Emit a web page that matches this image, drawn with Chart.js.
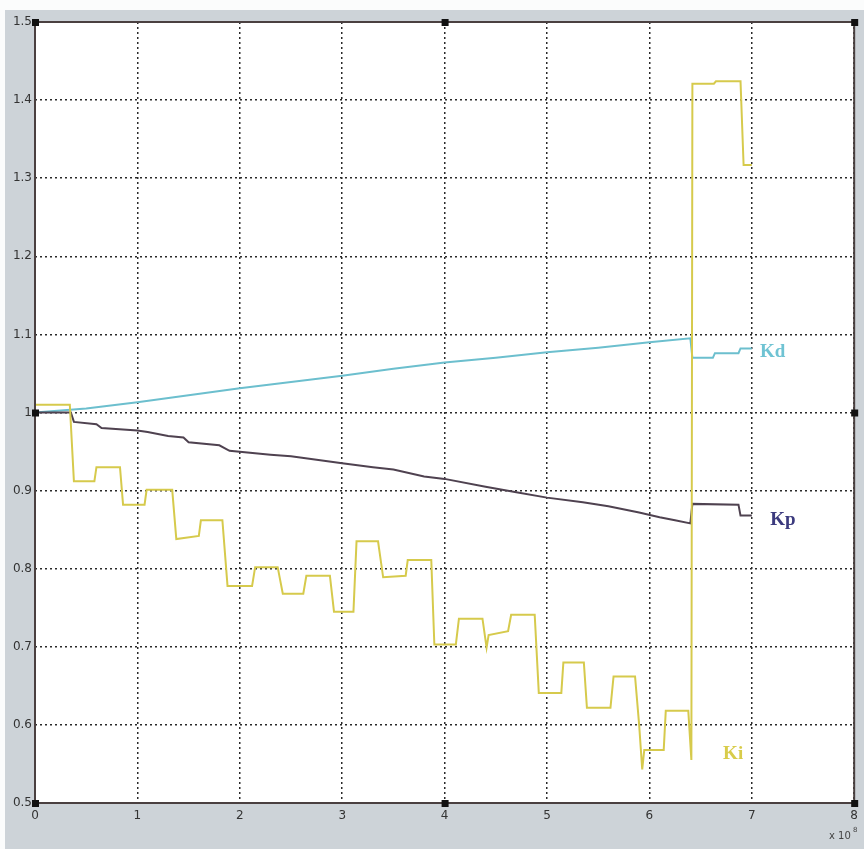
<!DOCTYPE html>
<html>
<head>
<meta charset="utf-8">
<script src="https://cdn.jsdelivr.net/npm/chart.js@4.4.1/dist/chart.umd.min.js"></script>
<style>
  body { margin: 0; background: #fff; }
  #wrap { width: 864px; height: 849px; }
</style>
</head>
<body>
<div id="wrap"><canvas id="chart" width="864" height="849"></canvas></div>
<script>
// x values are in units of 1e8
const kiX = [0, 0.34, 0.38, 0.58, 0.6, 0.83, 0.86, 1.07, 1.09, 1.34, 1.38, 1.6, 1.62, 1.83, 1.88, 2.12, 2.15, 2.37, 2.42, 2.62, 2.65, 2.88, 2.92, 3.11, 3.14, 3.35, 3.4, 3.62, 3.64, 3.87, 3.9, 4.11, 4.14, 4.37, 4.41, 4.43, 4.62, 4.65, 4.88, 4.92, 5.14, 5.16, 5.36, 5.39, 5.62, 5.65, 5.86, 5.9, 5.93, 5.95, 6.14, 6.16, 6.38, 6.41, 6.42, 6.63, 6.65, 6.89, 6.92, 7.0];
const kiY = [1.01, 1.01, 0.912, 0.912, 0.93, 0.93, 0.882, 0.882, 0.901, 0.901, 0.838, 0.842, 0.862, 0.862, 0.778, 0.778, 0.802, 0.802, 0.768, 0.768, 0.791, 0.791, 0.745, 0.745, 0.835, 0.835, 0.789, 0.791, 0.811, 0.811, 0.703, 0.703, 0.736, 0.736, 0.699, 0.715, 0.72, 0.741, 0.741, 0.641, 0.641, 0.68, 0.68, 0.622, 0.622, 0.662, 0.662, 0.6, 0.543, 0.568, 0.568, 0.618, 0.618, 0.555, 1.421, 1.421, 1.424, 1.424, 1.317, 1.317];

const kpX = [0, 0.35, 0.38, 0.6, 0.65, 1.0, 1.1, 1.3, 1.45, 1.5, 1.8, 1.9, 2.3, 2.5, 3.0, 3.3, 3.5, 3.8, 4.0, 4.4, 4.7, 5.0, 5.35, 5.6, 5.9, 6.1, 6.25, 6.4, 6.42, 6.87, 6.89, 7.0];
const kpY = [1.0, 1.0, 0.988, 0.985, 0.98, 0.977, 0.975, 0.97, 0.968, 0.962, 0.958, 0.951, 0.946, 0.944, 0.935, 0.93, 0.927, 0.918, 0.915, 0.905, 0.898, 0.891, 0.885, 0.88, 0.872, 0.866, 0.862, 0.858, 0.883, 0.882, 0.868, 0.868];

const kdX = [0, 0.5, 1.0, 1.5, 2.0, 2.5, 3.0, 3.5, 4.0, 4.5, 5.0, 5.5, 6.0, 6.4, 6.42, 6.62, 6.64, 6.87, 6.89, 7.0];
const kdY = [1.0, 1.005, 1.013, 1.022, 1.031, 1.039, 1.047, 1.056, 1.064, 1.07, 1.077, 1.083, 1.09, 1.095, 1.07, 1.07, 1.076, 1.076, 1.082, 1.082];

const xTicks = [0, 1, 2, 3, 4, 5, 6, 7, 8];
const yTicks = [0.5, 0.6, 0.7, 0.8, 0.9, 1.0, 1.1, 1.2, 1.3, 1.4, 1.5];

const toPts = (xs, ys) => xs.map((x, i) => ({ x: x, y: ys[i] }));

// grey figure background + white axes area
const bgPlugin = {
  id: 'bg',
  beforeDraw(chart) {
    const { ctx, chartArea: a } = chart;
    ctx.save();
    ctx.fillStyle = '#fbfcfc';
    ctx.fillRect(0, 0, chart.width, chart.height);
    ctx.fillStyle = '#cdd3d8';
    ctx.fillRect(5, 10, chart.width - 5, chart.height - 10);
    ctx.fillStyle = '#ffffff';
    ctx.fillRect(a.left, a.top, a.right - a.left, a.bottom - a.top);
    ctx.restore();
  },
  afterDraw(chart) {
    const { ctx, chartArea: a } = chart;
    const xs = chart.scales.x, ys = chart.scales.y;
    ctx.save();
    // box
    ctx.strokeStyle = '#4a4040';
    ctx.lineWidth = 2;
    ctx.strokeRect(a.left, a.top, a.right - a.left, a.bottom - a.top);
    // little selection handles
    ctx.fillStyle = '#111';
    [[0, 1.5], [4, 1.5], [8, 1.5], [0, 1.0], [8, 1.0], [0, 0.5], [4, 0.5], [8, 0.5]].forEach(p => {
      ctx.fillRect(xs.getPixelForValue(p[0]) - 3, ys.getPixelForValue(p[1]) - 3, 7, 7);
    });
    // series names
    ctx.font = 'bold 19px "Liberation Serif", "DejaVu Serif", serif';
    ctx.textBaseline = 'middle';
    ctx.fillStyle = '#6fc3d3';
    ctx.fillText('Kd', xs.getPixelForValue(7.08), ys.getPixelForValue(1.077));
    ctx.fillStyle = '#3b3a7e';
    ctx.fillText('Kp', xs.getPixelForValue(7.18), ys.getPixelForValue(0.862));
    ctx.fillStyle = '#d8cc4a';
    ctx.fillText('Ki', xs.getPixelForValue(6.72), ys.getPixelForValue(0.563));
    // exponent note
    ctx.fillStyle = '#444';
    ctx.font = '10px "DejaVu Sans", sans-serif';
    ctx.textBaseline = 'alphabetic';
    ctx.fillText('x 10', 829, 839);
    ctx.font = '7px "DejaVu Sans", sans-serif';
    ctx.fillText('8', 853, 832);
    ctx.restore();
  }
};

const gridStyle = {
  color: '#2a2a2a',
  lineWidth: 1.5,
  drawTicks: false
};

new Chart(document.getElementById('chart'), {
  type: 'line',
  data: {
    datasets: [
      { label: 'Ki', data: toPts(kiX, kiY), borderColor: '#d6ca4c', borderWidth: 2 },
      { label: 'Kp', data: toPts(kpX, kpY), borderColor: '#4f4250', borderWidth: 2 },
      { label: 'Kd', data: toPts(kdX, kdY), borderColor: '#6cbfce', borderWidth: 2 }
    ]
  },
  options: {
    responsive: false,
    animation: false,
    elements: { point: { radius: 0 }, line: { tension: 0 } },
    layout: { padding: { top: 22, right: 3, left: 0, bottom: 0 } },
    plugins: { legend: { display: false }, tooltip: { enabled: false } },
    scales: {
      x: {
        type: 'linear',
        min: 0, max: 8,
        afterBuildTicks(scale) { scale.ticks = xTicks.map(v => ({ value: v })); },
        afterFit(scale) { scale.height = 46; },
        grid: gridStyle,
        border: { display: false, dash: [2, 3] },
        ticks: {
          color: '#333',
          padding: 6,
          font: { family: '"DejaVu Sans", sans-serif', size: 12 },
          callback: v => String(v)
        }
      },
      y: {
        type: 'linear',
        min: 0.5, max: 1.5,
        afterBuildTicks(scale) { scale.ticks = yTicks.map(v => ({ value: v })); },
        afterFit(scale) { scale.width = 35; },
        grid: gridStyle,
        border: { display: false, dash: [2, 3] },
        ticks: {
          color: '#333',
          padding: 3,
          font: { family: '"DejaVu Sans", sans-serif', size: 12 },
          callback: v => String(+v.toFixed(1))
        }
      }
    }
  },
  plugins: [bgPlugin]
});
</script>
</body>
</html>
